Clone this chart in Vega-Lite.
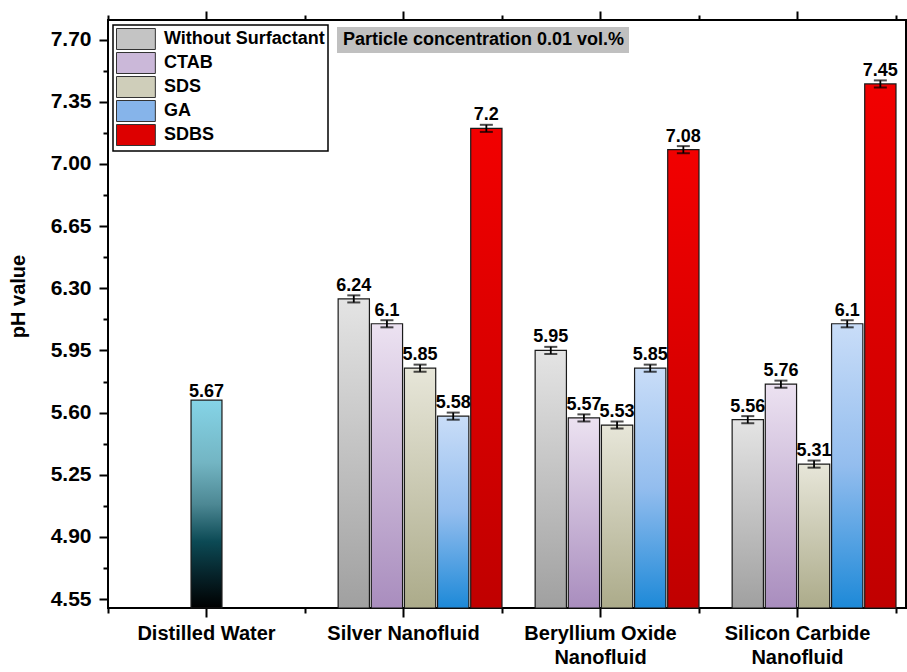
{
  "$schema": "https://vega.github.io/schema/vega-lite/v6.json",
  "width": 798,
  "height": 588,
  "autosize": {"type": "none"},
  "padding": {"left": 108, "top": 20, "right": 1, "bottom": 64},
  "background": "white",
  "config": {
    "font": "Liberation Sans",
    "view": {"stroke": "black", "strokeWidth": 2},
    "axis": {"grid": false, "domain": false, "tickColor": "black", "tickWidth": 2, "labelColor": "black", "labelFont": "Liberation Sans", "labelFontWeight": "bold", "titleFont": "Liberation Sans", "titleFontWeight": "bold", "titleColor": "black"},
    "legend": {"labelFont": "Liberation Sans", "labelFontWeight": "bold", "labelColor": "black", "labelLimit": 0}
  },
  "data": {
    "values": [
      {"category": "Distilled Water", "surfactant": "None", "value": 5.67, "err": 0},
      {"category": "Silver Nanofluid", "surfactant": "Without Surfactant", "value": 6.24, "err": 0.02},
      {"category": "Silver Nanofluid", "surfactant": "CTAB", "value": 6.1, "err": 0.02},
      {"category": "Silver Nanofluid", "surfactant": "SDS", "value": 5.85, "err": 0.02},
      {"category": "Silver Nanofluid", "surfactant": "GA", "value": 5.58, "err": 0.02},
      {"category": "Silver Nanofluid", "surfactant": "SDBS", "value": 7.2, "err": 0.02},
      {"category": "Beryllium Oxide Nanofluid", "surfactant": "Without Surfactant", "value": 5.95, "err": 0.02},
      {"category": "Beryllium Oxide Nanofluid", "surfactant": "CTAB", "value": 5.57, "err": 0.02},
      {"category": "Beryllium Oxide Nanofluid", "surfactant": "SDS", "value": 5.53, "err": 0.02},
      {"category": "Beryllium Oxide Nanofluid", "surfactant": "GA", "value": 5.85, "err": 0.02},
      {"category": "Beryllium Oxide Nanofluid", "surfactant": "SDBS", "value": 7.08, "err": 0.02},
      {"category": "Silicon Carbide Nanofluid", "surfactant": "Without Surfactant", "value": 5.56, "err": 0.02},
      {"category": "Silicon Carbide Nanofluid", "surfactant": "CTAB", "value": 5.76, "err": 0.02},
      {"category": "Silicon Carbide Nanofluid", "surfactant": "SDS", "value": 5.31, "err": 0.02},
      {"category": "Silicon Carbide Nanofluid", "surfactant": "GA", "value": 6.1, "err": 0.02},
      {"category": "Silicon Carbide Nanofluid", "surfactant": "SDBS", "value": 7.45, "err": 0.02}
    ]
  },
  "resolve": {"axis": {"x": "independent", "y": "independent"}},
  "layer": [
    {
      "transform": [{"filter": "datum.category === 'Distilled Water'"}],
      "mark": {"type": "bar", "width": {"band": 0.157}, "stroke": "#1a1a1a", "strokeWidth": 1.2,
        "fill": {"gradient": "linear", "x1": 0, "y1": 0, "x2": 0, "y2": 1, "stops": [
          {"offset": 0, "color": "#85d4e7"}, {"offset": 0.3, "color": "#73b5c3"}, {"offset": 0.5, "color": "#4d8894"},
          {"offset": 0.68, "color": "#0c4a55"}, {"offset": 0.84, "color": "#06232a"}, {"offset": 1, "color": "#000000"}]}},
      "encoding": {
        "x": {"field": "category", "type": "nominal", "sort": null,
          "scale": {"domain": ["Distilled Water", "Silver Nanofluid", "Beryllium Oxide Nanofluid", "Silicon Carbide Nanofluid"], "paddingInner": 0, "paddingOuter": 0.0254, "align": 0},
          "axis": {"orient": "bottom", "title": null, "labelAngle": 0, "labelFontSize": 20, "labelPadding": 6, "labelLineHeight": 24, "tickSize": 9,
            "labelExpr": "datum.value == 'Beryllium Oxide Nanofluid' ? ['Beryllium Oxide', 'Nanofluid'] : datum.value == 'Silicon Carbide Nanofluid' ? ['Silicon Carbide', 'Nanofluid'] : datum.value"}},
        "y": {"field": "value", "type": "quantitative",
          "scale": {"domain": [4.5, 7.81], "zero": false, "nice": false},
          "axis": {"orient": "left", "title": "pH value", "titleFontSize": 20, "titlePadding": 22, "titleY": 276, "labelFontSize": 21, "labelPadding": 8, "tickSize": 9, "format": ".2f",
            "values": [4.55, 4.9, 5.25, 5.6, 5.95, 6.3, 6.65, 7.0, 7.35, 7.7]}},
        "y2": {"datum": 4.5}
      }
    },
    {
      "transform": [{"filter": "datum.category !== 'Distilled Water'"}],
      "mark": {"type": "bar", "stroke": "#1a1a1a", "strokeWidth": 1.2},
      "encoding": {
        "x": {"field": "category", "type": "nominal", "sort": null,
          "axis": {"orient": "top", "title": null, "labels": false, "tickSize": 9}},
        "xOffset": {"field": "surfactant", "type": "nominal",
          "scale": {"domain": ["slot0", "Without Surfactant", "CTAB", "SDS", "GA", "SDBS"], "paddingInner": 0.056, "paddingOuter": 0}},
        "y": {"field": "value", "type": "quantitative",
          "axis": {"orient": "left", "title": null, "labels": false, "tickSize": 5,
            "values": [4.725, 5.075, 5.425, 5.775, 6.125, 6.475, 6.825, 7.175, 7.525]}},
        "y2": {"datum": 4.5},
        "fill": {
          "condition": [
            {"test": "datum.surfactant === 'Without Surfactant'", "value": {"gradient": "linear", "x1": 0, "y1": 0, "x2": 0, "y2": 1, "stops": [{"offset": 0, "color": "#e4e4e4"}, {"offset": 1, "color": "#a0a0a0"}]}},
            {"test": "datum.surfactant === 'CTAB'", "value": {"gradient": "linear", "x1": 0, "y1": 0, "x2": 0, "y2": 1, "stops": [{"offset": 0, "color": "#ece2f1"}, {"offset": 1, "color": "#a98dbe"}]}},
            {"test": "datum.surfactant === 'SDS'", "value": {"gradient": "linear", "x1": 0, "y1": 0, "x2": 0, "y2": 1, "stops": [{"offset": 0, "color": "#e7e6d9"}, {"offset": 1, "color": "#acab8a"}]}},
            {"test": "datum.surfactant === 'GA'", "value": {"gradient": "linear", "x1": 0, "y1": 0, "x2": 0, "y2": 1, "stops": [{"offset": 0, "color": "#c9ddf8"}, {"offset": 0.5, "color": "#93bdee"}, {"offset": 1, "color": "#1d89d8"}]}}
          ],
          "value": {"gradient": "linear", "x1": 0, "y1": 0, "x2": 0, "y2": 1, "stops": [{"offset": 0, "color": "#f20000"}, {"offset": 1, "color": "#c00000"}]}
        }
      }
    },
    {
      "transform": [{"filter": "datum.category !== 'Distilled Water'"}],
      "mark": {"type": "errorbar", "ticks": {"size": 13, "thickness": 2}, "rule": {"strokeWidth": 1.8}, "color": "black"},
      "encoding": {
        "x": {"field": "category", "type": "nominal", "sort": null, "axis": null},
        "xOffset": {"field": "surfactant", "type": "nominal"},
        "y": {"field": "value", "type": "quantitative", "axis": null},
        "yError": {"field": "err"}
      }
    },
    {
      "transform": [{"filter": "datum.category !== 'Distilled Water'"}],
      "mark": {"type": "text", "fontSize": 18, "fontWeight": "bold", "baseline": "alphabetic", "dy": -8, "color": "black"},
      "encoding": {
        "x": {"field": "category", "type": "nominal", "sort": null,
          "axis": {"orient": "bottom", "title": null, "labels": false, "tickSize": 5, "tickBand": "extent"}},
        "xOffset": {"field": "surfactant", "type": "nominal"},
        "y": {"field": "value", "type": "quantitative", "axis": null},
        "text": {"field": "value", "type": "quantitative"}
      }
    },
    {
      "transform": [{"filter": "datum.category === 'Distilled Water'"}],
      "mark": {"type": "text", "fontSize": 18, "fontWeight": "bold", "baseline": "alphabetic", "dy": -3, "color": "black"},
      "encoding": {
        "x": {"field": "category", "type": "nominal", "sort": null,
          "axis": {"orient": "top", "title": null, "labels": false, "tickSize": 5, "tickBand": "extent"}},
        "y": {"field": "value", "type": "quantitative", "axis": null},
        "text": {"field": "value", "type": "quantitative"}
      }
    },
    {
      "transform": [{"filter": "datum.category !== 'Distilled Water'"}],
      "mark": {"type": "point", "opacity": 0, "filled": true},
      "encoding": {
        "x": {"field": "category", "type": "nominal", "sort": null, "axis": null},
        "xOffset": {"field": "surfactant", "type": "nominal"},
        "y": {"field": "value", "type": "quantitative", "axis": null},
        "fill": {"field": "surfactant", "type": "nominal",
          "scale": {"domain": ["Without Surfactant", "CTAB", "SDS", "GA", "SDBS"], "range": ["#c4c4c4", "#cbb8d9", "#cfceba", "#86b4ea", "#dd0000"]},
          "legend": {"orient": "none", "legendX": 5, "legendY": 5, "title": null, "symbolType": "M-1,-1H2.7V1H-1Z", "symbolSize": 441,
            "symbolStrokeColor": "#333333", "symbolStrokeWidth": 1, "symbolOpacity": 1, "labelFontSize": 18, "labelOffset": 26,
            "rowPadding": -4.5, "padding": 3, "strokeColor": "black", "fillColor": "white",
            "encode": {"legend": {"update": {"strokeWidth": {"value": 1.5}}}}}}
      }
    },
    {
      "transform": [{"filter": "datum.category === 'Distilled Water'"}],
      "mark": {"type": "point", "opacity": 0},
      "encoding": {
        "shape": {"datum": "Particle concentration 0.01 vol.%",
          "legend": {"orient": "none", "legendX": 229, "legendY": 7, "title": null, "symbolSize": 0, "symbolOpacity": 0, "symbolStrokeWidth": 0,
            "labelOffset": -16, "labelFontSize": 18, "padding": 4, "fillColor": "#c0c0c0", "strokeColor": null}}
      }
    }
  ]
}
